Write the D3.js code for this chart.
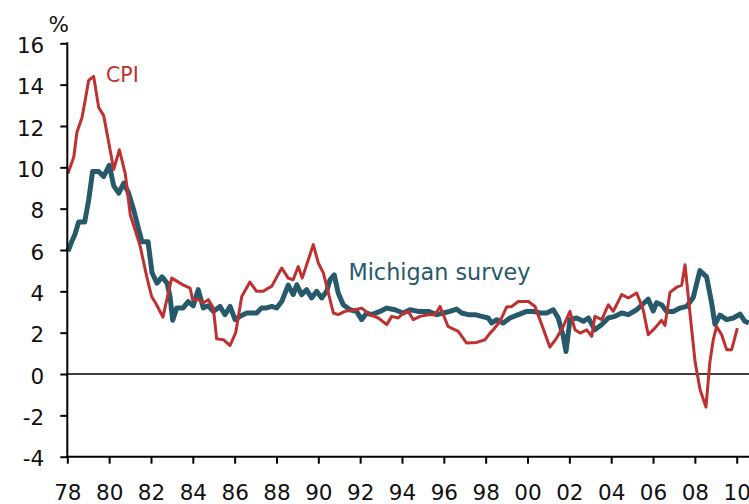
<!DOCTYPE html>
<html><head><meta charset="utf-8">
<script src="https://cdn.jsdelivr.net/npm/d3@7"></script>
<style>
html,body{margin:0;padding:0;background:#fff;}
svg{display:block;}
text{font-family:"DejaVu Sans",Verdana,sans-serif;}
</style></head>
<body><svg id="chart" width="749" height="504"></svg>
<script>
// ---- data (decimal year, % ) ----
const cpiData = [
[1978.03,9.7],[1978.31,10.5],[1978.46,11.7],[1978.70,12.4],[1978.83,13.1],[1979.02,14.2],[1979.26,14.4],
[1979.50,12.9],[1979.74,12.5],[1979.98,11.2],[1980.22,9.9],[1980.49,10.85],[1980.77,9.7],[1981.01,7.7],
[1981.48,6.2],[1981.80,4.7],[1982.03,3.75],[1982.27,3.35],[1982.57,2.75],[1982.99,4.64],[1983.55,4.3],
[1983.87,4.16],[1983.99,3.6],[1984.26,3.6],[1984.50,3.43],[1984.74,3.6],[1984.98,3.2],[1985.14,1.7],
[1985.46,1.66],[1985.78,1.38],[1986.05,2.0],[1986.34,3.75],[1986.73,4.45],[1987.05,4.0],[1987.37,4.0],
[1987.61,4.16],[1987.77,4.24],[1988.25,5.13],[1988.56,4.64],[1988.80,4.56],[1989.04,5.2],[1989.23,4.64],
[1989.76,6.26],[1990.00,5.37],[1990.24,4.89],[1990.48,3.92],[1990.72,2.95],[1990.95,2.87],[1991.27,3.03],
[1991.75,3.11],[1992.07,3.19],[1992.47,2.87],[1992.87,2.71],[1993.27,2.39],[1993.51,2.79],[1993.82,2.71],
[1994.06,2.95],[1994.30,3.03],[1994.54,2.63],[1994.86,2.79],[1995.26,2.87],[1995.58,2.87],[1995.82,3.27],
[1996.20,2.3],[1996.69,2.06],[1997.09,1.5],[1997.57,1.53],[1997.97,1.66],[1998.21,1.98],[1998.36,2.14],
[1998.68,2.54],[1999.00,3.24],[1999.24,3.27],[1999.56,3.51],[2000.04,3.51],[2000.36,3.27],[2000.68,2.39],
[2001.07,1.3],[2001.39,1.74],[2001.71,2.3],[2002.03,3.03],[2002.27,2.14],[2002.51,1.98],[2002.83,2.14],
[2003.07,1.82],[2003.22,2.79],[2003.55,2.63],[2003.86,3.35],[2004.10,3.03],[2004.50,3.84],[2004.82,3.68],
[2005.22,3.92],[2005.53,3.11],[2005.77,1.9],[2006.09,2.22],[2006.41,2.6],[2006.57,2.35],[2006.81,3.95],
[2007.13,4.2],[2007.37,4.3],[2007.53,5.29],[2007.77,2.9],[2008.01,0.6],[2008.25,-0.76],[2008.53,-1.6],
[2008.72,0.6],[2008.88,1.66],[2009.04,2.3],[2009.28,1.9],[2009.52,1.18],[2009.76,1.18],[2010.03,2.22]
];
const michiganData = [
[1978.03,5.93],[1978.21,6.4],[1978.38,6.8],[1978.54,7.35],[1978.83,7.35],[1979.02,8.4],[1979.21,9.8],
[1979.50,9.8],[1979.74,9.56],[1980.01,10.1],[1980.22,9.1],[1980.46,8.75],[1980.70,9.24],[1980.93,8.75],
[1981.17,7.95],[1981.41,7.0],[1981.57,6.4],[1981.86,6.4],[1982.05,4.9],[1982.29,4.4],[1982.53,4.7],
[1982.77,4.4],[1982.91,3.75],[1983.04,2.6],[1983.23,3.2],[1983.54,3.2],[1983.78,3.5],[1984.02,3.3],
[1984.26,4.08],[1984.50,3.2],[1984.74,3.3],[1984.98,3.03],[1985.30,3.27],[1985.54,2.87],[1985.78,3.27],
[1986.02,2.63],[1986.26,2.79],[1986.58,2.95],[1987.05,2.95],[1987.29,3.2],[1987.53,3.2],[1987.77,3.27],
[1988.01,3.2],[1988.25,3.51],[1988.56,4.3],[1988.80,3.84],[1988.97,4.32],[1989.20,3.84],[1989.44,4.08],
[1989.68,3.68],[1989.92,4.0],[1990.16,3.68],[1990.40,4.0],[1990.56,4.56],[1990.76,4.8],[1990.95,3.92],
[1991.19,3.35],[1991.51,3.11],[1991.83,3.03],[1992.07,2.63],[1992.31,2.95],[1992.55,2.87],[1992.95,3.03],
[1993.27,3.19],[1993.66,3.11],[1994.06,2.95],[1994.38,3.11],[1994.78,3.03],[1995.26,3.03],[1995.66,2.87],
[1995.97,2.95],[1996.29,3.03],[1996.61,3.14],[1996.85,2.95],[1997.17,2.87],[1997.49,2.87],[1997.81,2.79],
[1998.12,2.71],[1998.29,2.47],[1998.53,2.63],[1998.84,2.47],[1999.16,2.71],[1999.50,2.85],[1999.96,3.03],
[2000.28,3.03],[2000.60,2.95],[2000.92,2.95],[2001.23,3.11],[2001.47,2.71],[2001.71,1.82],[2001.84,1.09],
[2002.03,2.63],[2002.35,2.71],[2002.67,2.55],[2002.91,2.71],[2003.22,2.14],[2003.55,2.39],[2003.86,2.71],
[2004.18,2.79],[2004.50,2.95],[2004.82,2.87],[2005.22,3.11],[2005.53,3.4],[2005.77,3.62],[2006.01,3.05],
[2006.17,3.45],[2006.41,3.35],[2006.65,3.03],[2006.97,3.03],[2007.29,3.19],[2007.61,3.27],[2007.92,3.7],
[2008.24,5.0],[2008.56,4.7],[2008.80,3.45],[2008.96,2.4],[2009.20,2.85],[2009.52,2.63],[2009.84,2.71],
[2010.16,2.9],[2010.39,2.55],[2010.58,2.47]
];
const xTickYears = [1978,1980,1982,1984,1986,1988,1990,1992,1994,1996,1998,2000,2002,2004,2006,2008,2010];
const yTickValues = [-4,-2,0,2,4,6,8,10,12,14,16];
const seriesLabels = ["CPI","Michigan survey"];

// ---- layout ----
const svg = d3.select("#chart");
const padL = 67.3, padR = 749, padT = 43.3, padB = 456.7;
const x = d3.scaleLinear().domain([1978, 2010]).range([padL, 736.7]);
const y = d3.scaleLinear().domain([-4, 16]).range([padB, padT]);
const cpiColor = "#bf3030", michColor = "#265a6b";

// zero line
svg.append("line").attr("x1", padL).attr("x2", padR)
  .attr("y1", y(0)).attr("y2", y(0))
  .attr("stroke", "#000").attr("stroke-width", 1.5);

const line = d3.line().x(d => x(d[0])).y(d => y(d[1]));

svg.append("path").datum(michiganData).attr("d", line)
  .attr("fill", "none").attr("stroke", michColor).attr("stroke-width", 5)
  .attr("stroke-linejoin", "round");
svg.append("path").datum(cpiData).attr("d", line)
  .attr("fill", "none").attr("stroke", cpiColor).attr("stroke-width", 3)
  .attr("stroke-linejoin", "round");

// y axis
const yAxis = d3.axisLeft(y).tickValues(yTickValues).tickSize(7).tickPadding(16)
  .tickFormat(d => String(d));
const gy = svg.append("g").attr("transform", `translate(${padL},0)`).call(yAxis);
gy.select(".domain").remove();
gy.selectAll(".tick line").attr("stroke", "#000").attr("stroke-width", 2);
gy.selectAll(".tick text").attr("font-size", 21.5).attr("fill", "#111").attr("dy", "0.42em")
  .style("font-family", "'DejaVu Sans', Verdana, sans-serif");
svg.append("line").attr("x1", padL).attr("x2", padL).attr("y1", padT - 1).attr("y2", padB + 1)
  .attr("stroke", "#000").attr("stroke-width", 2);

// x axis
const xAxis = d3.axisBottom(x).tickValues(xTickYears).tickSize(7).tickPadding(21)
  .tickFormat(d => String(d % 100).padStart(2, "0"));
const gx = svg.append("g").attr("transform", `translate(0,${padB})`).call(xAxis);
gx.select(".domain").remove();
gx.selectAll(".tick line").attr("stroke", "#000").attr("stroke-width", 2);
gx.selectAll(".tick text").attr("font-size", 21.5).attr("fill", "#111")
  .style("font-family", "'DejaVu Sans', Verdana, sans-serif");
svg.append("line").attr("x1", padL - 1).attr("x2", padR).attr("y1", padB).attr("y2", padB)
  .attr("stroke", "#000").attr("stroke-width", 2);

// unit label
svg.append("text").attr("x", 58.7).attr("y", 31.5).attr("text-anchor", "middle")
  .attr("font-size", 21.5).attr("fill", "#111").text("%");

// series labels
svg.append("text").attr("x", x(1979.85)).attr("y", y(14.15)).attr("font-size", 20.5)
  .attr("fill", cpiColor).text(seriesLabels[0]);
svg.append("text").attr("x", x(1991.44)).attr("y", y(4.55)).attr("font-size", 22.3)
  .attr("fill", michColor).text(seriesLabels[1]);
</script></body></html>
